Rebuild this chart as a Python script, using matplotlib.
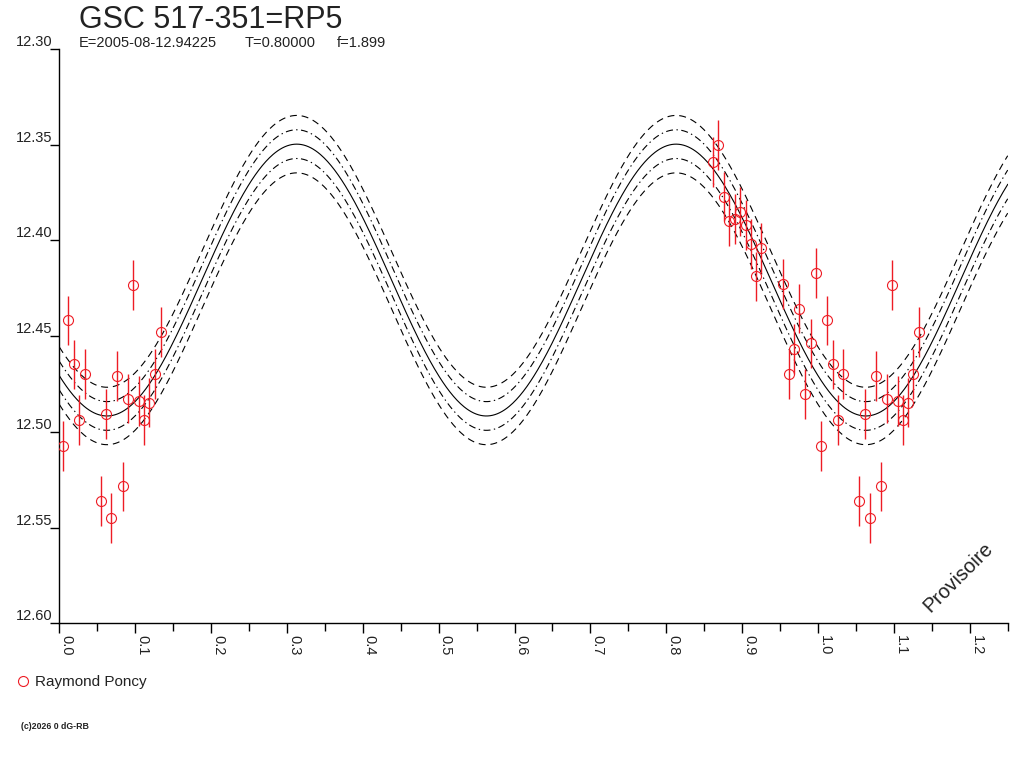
import numpy as np
import matplotlib
matplotlib.use('Agg')
import matplotlib.pyplot as plt
from matplotlib.lines import Line2D

plt.rcParams['font.family'] = ['Liberation Sans', 'DejaVu Sans']
plt.rcParams['lines.scale_dashes'] = False

# observations (phase in [0,1), magnitude, error)
phase = [0.0045, 0.0115, 0.0194, 0.0264, 0.0334, 0.0545, 0.0615, 0.0685,
         0.0765, 0.0835, 0.0905, 0.0975, 0.1054, 0.1116, 0.1186, 0.1257,
         0.1336,
         0.8619, 0.8685, 0.8764, 0.8830, 0.8905, 0.8971, 0.9050, 0.9116,
         0.9182, 0.9248, 0.9542, 0.9617, 0.9687, 0.9750, 0.9823, 0.9902,
         0.9968]
mag = [12.5075, 12.4418, 12.4648, 12.4936, 12.4696, 12.5363, 12.4905, 12.5451,
       12.4707, 12.5285, 12.4826, 12.4231, 12.4839, 12.4936, 12.4847, 12.4696,
       12.4477,
       12.3592, 12.3502, 12.3771, 12.3898, 12.3887, 12.3849, 12.3918, 12.4019,
       12.4188, 12.4040, 12.4227, 12.4696, 12.4566, 12.4356, 12.4804, 12.4538,
       12.4170]
err = [0.013] * len(phase)

# fitted light curve (double wave) and its envelopes
fit_mean = 12.4207
fit_amp = 0.0710
fit_phase_max = 0.3129
fit_period = 0.5
env_inner = 0.0075
env_outer = 0.015

title = 'GSC 517-351=RP5'
sub_E = 'E=2005-08-12.94225'
sub_T = 'T=0.80000'
sub_f = 'f=1.899'
observer = 'Raymond Poncy'

xticks = np.round(np.arange(0, 1.21, 0.1), 1)
yticks = [12.30, 12.35, 12.40, 12.45, 12.50, 12.55, 12.60]

red = '#ee1c24'
ink = '#222222'
W, H = 1024, 768
fig = plt.figure(figsize=(W / 100, H / 100), dpi=100)
ax = fig.add_axes([59.3 / W, 1 - 623.3 / H, (1007.7 - 59.3) / W, (623.3 - 49) / H])

ph = np.linspace(0, 1.25, 800)
curve = fit_mean - fit_amp * np.cos(2 * np.pi * (ph - fit_phase_max) / fit_period)
ax.plot(ph, curve, color='black', lw=0.8)
for s in (-1, 1):
    ax.plot(ph, curve + s * env_inner, color='black', lw=0.8,
            dashes=(5, 2.5, 1, 2.5))
    ax.plot(ph, curve + s * env_outer, color='black', lw=0.8, dashes=(5, 3.5))

p = np.array(phase)
m = np.array(mag)
e = np.array(err)
rep = p + 1 <= 1.25
px = np.concatenate([p, p[rep] + 1])
pm = np.concatenate([m, m[rep]])
pe = np.concatenate([e, e[rep]])
ax.errorbar(px, pm, yerr=pe, fmt='o', ms=7.2, mfc='none', mec=red, mew=0.8,
            ecolor=red, elinewidth=1.0, capsize=0, zorder=5)

ax.set_xlim(0, 1.25)
ax.set_ylim(12.60, 12.30)
for sp in ('top', 'right'):
    ax.spines[sp].set_visible(False)
for sp in ('left', 'bottom'):
    ax.spines[sp].set_linewidth(1.0)

ax.set_xticks(xticks)
ax.set_xticks(np.arange(0.05, 1.26, 0.1), minor=True)
ax.set_xticklabels([f'{v:.1f}' for v in xticks], rotation=-90, ha='left', va='top',
                   fontsize=10.5, color=ink)
ax.tick_params(axis='x', which='major', length=7.5, width=1.0, pad=1)
ax.tick_params(axis='x', which='minor', length=6, width=1.0)
ax.set_yticks(yticks)
ax.set_yticklabels([f'{v:.2f}' for v in yticks], fontsize=10.5, color=ink)
ax.tick_params(axis='y', length=6.5, width=1.0, pad=-1.5)
for lab in ax.get_yticklabels():
    lab.set_va('bottom')

fig.text(79 / W, 1 - 28.5 / H, title, fontsize=22, va='baseline', color=ink)
fig.text(79 / W, 1 - 47 / H, sub_E, fontsize=10.5, va='baseline', color=ink)
fig.text(245 / W, 1 - 47 / H, sub_T, fontsize=10.5, va='baseline', color=ink)
fig.text(337 / W, 1 - 47 / H, sub_f, fontsize=10.5, va='baseline', color=ink)

handle = Line2D([], [], marker='o', ls='none', ms=7.2, mfc='none', mec=red, mew=0.8)
fig.legend([handle], [observer], loc='center left', bbox_to_anchor=(17 / W, 1 - 682 / H),
           frameon=False, fontsize=11, handlelength=0.8, handletextpad=0.4,
           borderpad=0, borderaxespad=0, labelcolor=ink)

fig.text(21 / W, 1 - 729 / H, '(c)2026 0 dG-RB', fontsize=6.3, va='baseline',
         weight='bold', color=ink)
fig.text(958 / W, 1 - 577 / H, 'Provisoire', fontsize=14.5, rotation=45,
         ha='center', va='center', color=ink)

fig.savefig('out.png', dpi=100)
